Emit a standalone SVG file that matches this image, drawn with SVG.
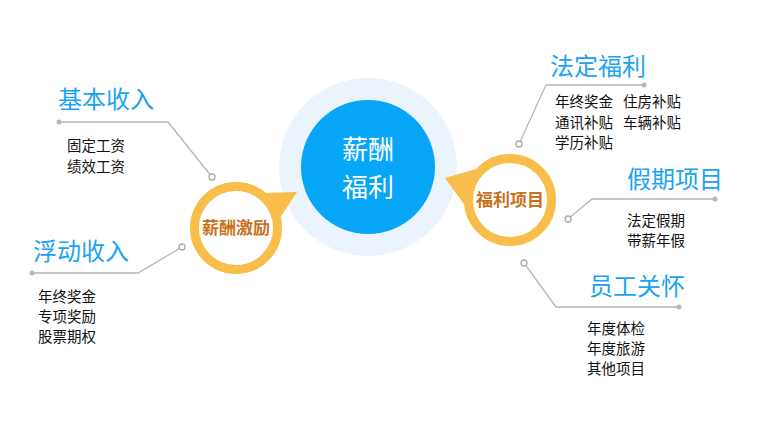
<svg xmlns="http://www.w3.org/2000/svg" width="781" height="425" viewBox="0 0 781 425">
<style>
.title{font-family:"Noto Sans CJK SC","Liberation Sans",sans-serif;font-size:24px;fill:#1aa3f2;}
.item{font-family:"Noto Sans CJK SC","Liberation Sans",sans-serif;font-size:14.5px;fill:#111;}
.ring{fill:#fff;stroke:#f8bd4b;stroke-width:9;}
.ringtxt{font-family:"Noto Sans CJK SC","Liberation Sans",sans-serif;font-size:17px;font-weight:bold;fill:#c8711c;text-anchor:middle;}
.ptr{fill:#f8bd4b;}
.line{fill:none;stroke:#b8b8b8;stroke-width:1.3;}
.dot{fill:#b8b8b8;}
.open{fill:#fff;stroke:#aaa;stroke-width:1.3;}
</style>
<rect width="781" height="425" fill="#fff"/>
<g id="connectors">
<polyline class="line" points="59,122 168,122 212,177"/>
<circle class="dot" cx="59" cy="122" r="2.5"/>
<circle class="open" cx="212" cy="177" r="3"/>
<polyline class="line" points="32,273 138,273 182,247"/>
<circle class="dot" cx="32" cy="273" r="2.5"/>
<circle class="open" cx="182" cy="247" r="3"/>
<polyline class="line" points="519,144 546,85 644,85"/>
<circle class="dot" cx="644" cy="85" r="2.5"/>
<circle class="open" cx="519" cy="144" r="3"/>
<polyline class="line" points="568,219 592,199 715,199"/>
<circle class="dot" cx="715" cy="199" r="2.5"/>
<circle class="open" cx="568" cy="219" r="3"/>
<polyline class="line" points="524,263 556,307 679,307"/>
<circle class="dot" cx="679" cy="307" r="2.5"/>
<circle class="open" cx="524" cy="263" r="3"/>
</g>
<g id="center">
<circle cx="368" cy="167" r="89" fill="#ebf3fc"/>
<circle cx="368" cy="167" r="67" fill="#07a6f6"/>
<text font-family="Noto Sans CJK SC,Liberation Sans,sans-serif" font-size="26" fill="#fff" text-anchor="middle"><tspan x="368" y="159">薪酬</tspan><tspan x="368" y="197">福利</tspan></text>
</g>
<g id="incentive">
<polygon class="ptr" points="262,193 297,192 276,224"/>
<circle class="ring" cx="236" cy="228" r="41.5"/>
<text class="ringtxt" x="236" y="234">薪酬激励</text>
</g>
<g id="welfare">
<polygon class="ptr" points="445,178 476,169 466,207"/>
<circle class="ring" cx="510" cy="200" r="41.5"/>
<text class="ringtxt" x="510" y="206">福利项目</text>
</g>
<g id="basic">
<text class="title" x="58" y="108">基本收入</text>
<text class="item" x="67" y="151">固定工资</text>
<text class="item" x="67" y="172">绩效工资</text>
</g>
<g id="floating">
<text class="title" x="33" y="260">浮动收入</text>
<text class="item" x="38" y="302">年终奖金</text>
<text class="item" x="38" y="322">专项奖励</text>
<text class="item" x="38" y="342">股票期权</text>
</g>
<g id="legal">
<text class="title" x="550" y="75">法定福利</text>
<text class="item" x="555" y="107">年终奖金</text>
<text class="item" x="623" y="107">住房补贴</text>
<text class="item" x="555" y="128">通讯补贴</text>
<text class="item" x="623" y="128">车辆补贴</text>
<text class="item" x="555" y="148">学历补贴</text>
</g>
<g id="holiday">
<text class="title" x="627" y="188">假期项目</text>
<text class="item" x="627" y="226">法定假期</text>
<text class="item" x="627" y="246">带薪年假</text>
</g>
<g id="care">
<text class="title" x="589" y="295">员工关怀</text>
<text class="item" x="587" y="334">年度体检</text>
<text class="item" x="587" y="354">年度旅游</text>
<text class="item" x="587" y="374">其他项目</text>
</g>
</svg>
